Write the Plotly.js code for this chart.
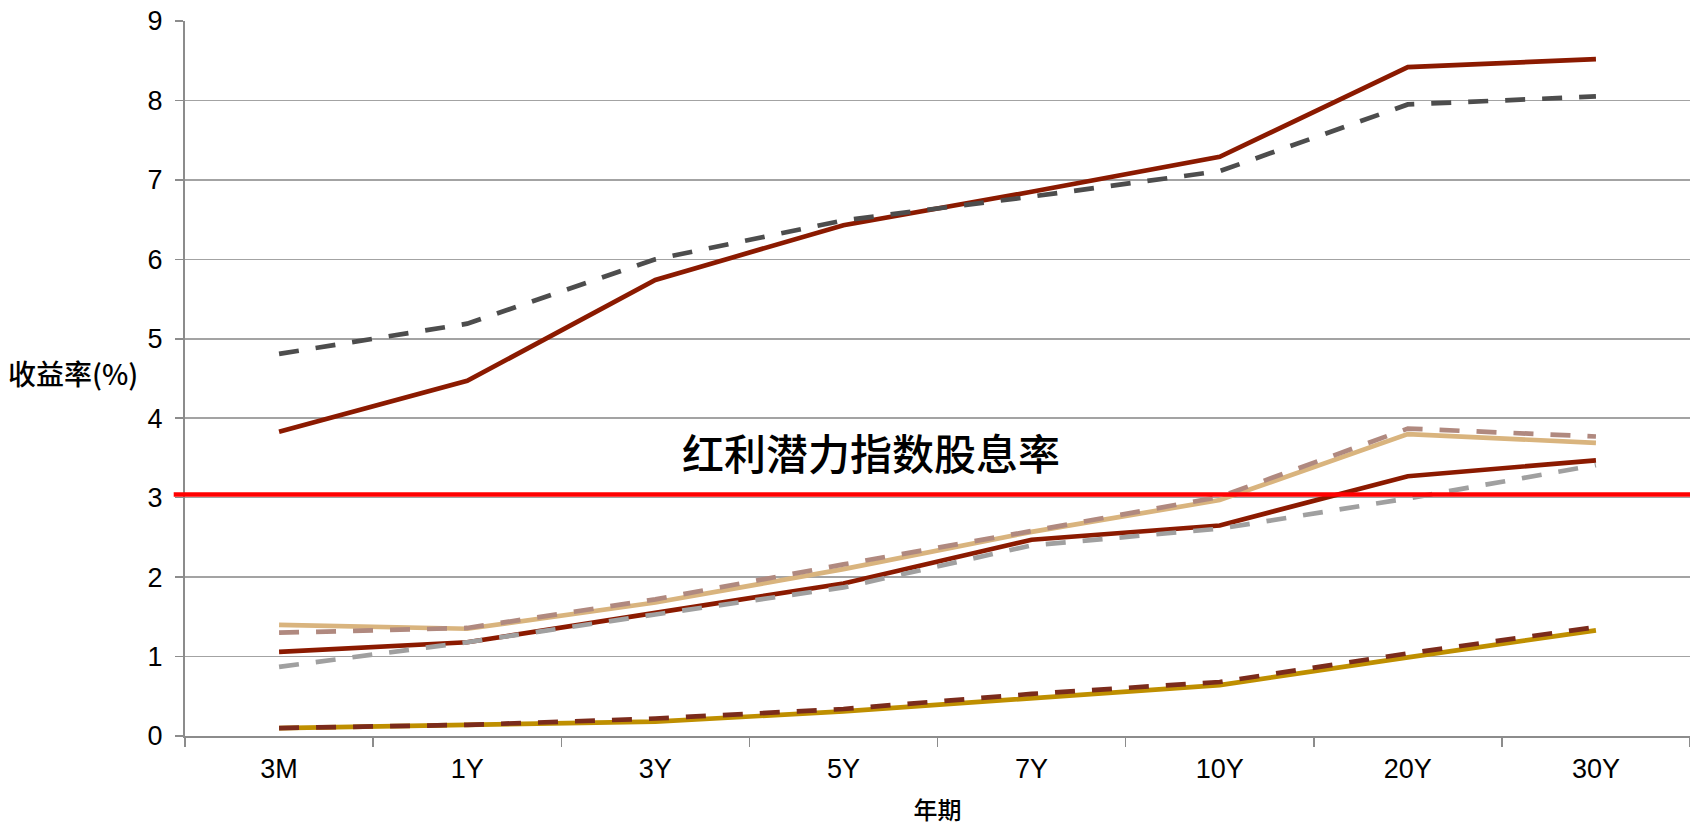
<!DOCTYPE html>
<html>
<head>
<meta charset="utf-8">
<script src="https://cdn.plot.ly/plotly-3.0.1.min.js"></script>
<style>html,body{margin:0;padding:0;background:#fff;}#chart{width:1690px;height:826px;}</style>
</head>
<body>
<div id="chart"></div>
<script>
// Categories (tenors)
const tenors = ["3M", "1Y", "3Y", "5Y", "7Y", "10Y", "20Y", "30Y"];

// Series values (%)
const seriesA = [3.83, 4.47, 5.74, 6.43, 6.85, 7.29, 8.42, 8.52];   // dark red solid, upper
const seriesB = [4.81, 5.19, 6.00, 6.49, 6.79, 7.11, 7.95, 8.05];   // dark grey dashed, upper
const seriesC = [1.40, 1.35, 1.68, 2.10, 2.57, 2.97, 3.80, 3.69];   // tan solid
const seriesD = [1.30, 1.36, 1.72, 2.16, 2.58, 3.01, 3.87, 3.77];   // mauve dashed
const seriesE = [1.06, 1.18, 1.55, 1.92, 2.47, 2.65, 3.27, 3.47];   // dark red solid, lower
const seriesF = [0.87, 1.18, 1.53, 1.87, 2.40, 2.61, 2.99, 3.41];   // light grey dashed
const seriesG = [0.10, 0.14, 0.18, 0.31, 0.48, 0.64, 0.99, 1.33];   // gold solid
const seriesH = [0.10, 0.14, 0.22, 0.34, 0.53, 0.68, 1.04, 1.37];   // dark brown dashed

// Reference level: dividend yield of the index
const dividendYield = 3.04;
const dividendLabel = "红利潜力指数股息率";

const yTicks = [0, 1, 2, 3, 4, 5, 6, 7, 8, 9];

const DASH = "20px,17px";
function line(name, y, color, dashed) {
  return {
    type: "scatter", mode: "lines", name: name, x: tenors, y: y,
    line: {color: color, width: 4.7, dash: dashed ? DASH : "solid"},
    hoverinfo: "x+y+name"
  };
}

const data = [
  line("曲线A", seriesA, "#8B1A00", false),
  line("曲线C", seriesC, "#D9B47E", false),
  line("曲线E", seriesE, "#8B1A00", false),
  line("曲线G", seriesG, "#BF8F00", false),
  line("曲线B", seriesB, "#4D4D4D", true),
  line("曲线D", seriesD, "#B0897F", true),
  line("曲线F", seriesF, "#A0A0A0", true),
  line("曲线H", seriesH, "#7B2B1B", true)
];

const axisFont = {family: "Liberation Sans, Arial, sans-serif", size: 27, color: "#000"};
const cjkFont = {family: "Noto Sans CJK SC, sans-serif", size: 24, color: "#000", weight: 500};

const layout = {
  width: 1690, height: 826,
  margin: {l: 185, r: 0, t: 21, b: 90},
  paper_bgcolor: "#fff", plot_bgcolor: "#fff",
  showlegend: false,
  xaxis: {
    type: "category",
    range: [-0.5, 7.5],
    tickson: "boundaries",
    ticks: "outside", ticklen: 9, tickwidth: 1.5, tickcolor: "#8C8C8C",
    showline: true, linecolor: "#8C8C8C", linewidth: 2,
    showgrid: false, zeroline: false,
    tickfont: axisFont,
    ticklabelstandoff: 8,
    title: {text: "年期", font: cjkFont, standoff: 22}
  },
  yaxis: {
    range: [0, 9],
    tickvals: yTicks,
    ticktext: yTicks.map(String),
    ticks: "outside", ticklen: 8, tickwidth: 1.5, tickcolor: "#8C8C8C",
    showline: true, linecolor: "#8C8C8C", linewidth: 2,
    showgrid: true, gridcolor: "#A3A3A3", gridwidth: 1.5,
    zeroline: false,
    tickfont: axisFont,
    ticklabelstandoff: 7
  },
  shapes: [{
    type: "line", xref: "paper", yref: "y",
    x0: -0.0075, x1: 1, y0: dividendYield, y1: dividendYield,
    line: {color: "#FF0000", width: 4.5},
    layer: "above"
  }],
  annotations: [
    {
      text: dividendLabel, xref: "paper", yref: "paper",
      x: (871 - 185) / 1505, y: (736 - 451) / 715,
      xanchor: "center", yanchor: "middle", showarrow: false,
      font: {family: "Noto Sans CJK SC, sans-serif", size: 42, color: "#000", weight: 500}
    },
    {
      text: "收益率(%)", xref: "paper", yref: "paper",
      x: (73 - 185) / 1505, y: (736 - 373) / 715,
      xanchor: "center", yanchor: "middle", showarrow: false,
      font: {family: "Noto Sans CJK SC, sans-serif", size: 28, color: "#000", weight: 500}
    }
  ]
};

Plotly.newPlot("chart", data, layout, {displayModeBar: false, staticPlot: true});
</script>
</body>
</html>
